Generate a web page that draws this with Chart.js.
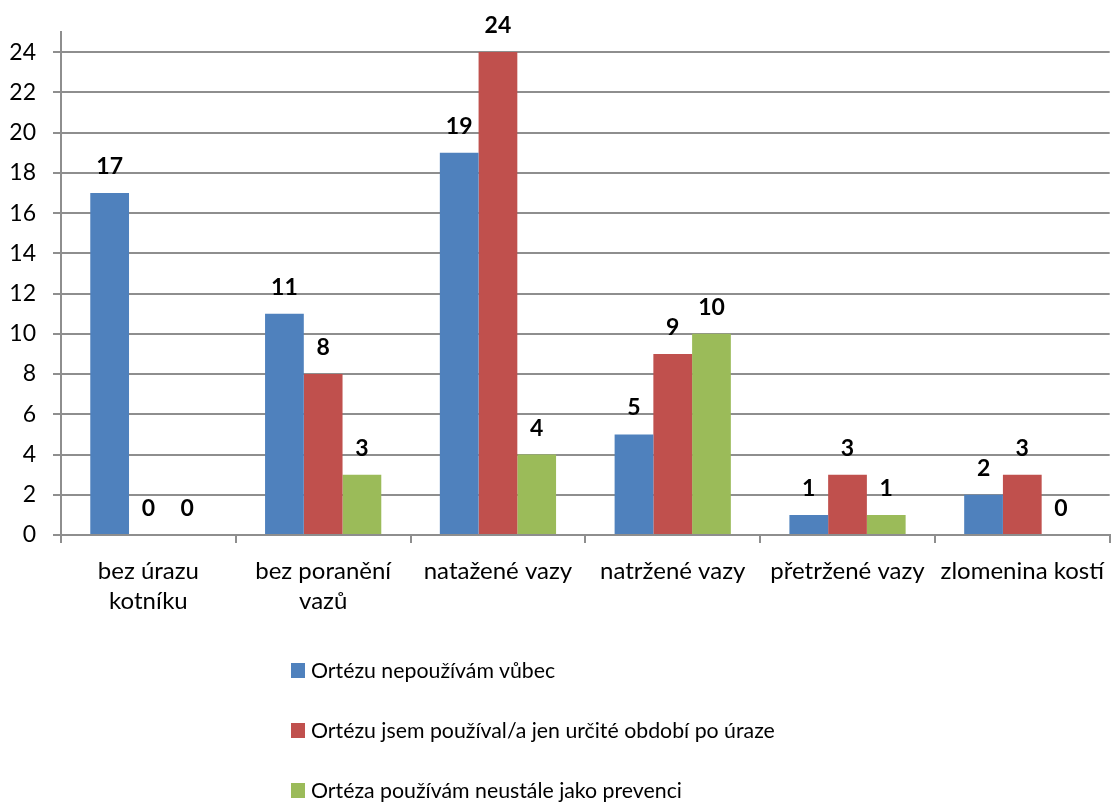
<!DOCTYPE html>
<html><head><meta charset="utf-8">
<script src="https://cdn.jsdelivr.net/npm/chart.js@4.4.1/dist/chart.umd.min.js"></script>
<style>
html,body{margin:0;padding:0;background:#fff;}
#wrap{position:relative;width:1117px;height:803px;overflow:hidden;}
#legend{position:absolute;left:291px;top:0;font-family:Lato,sans-serif;font-size:21.3px;color:#000;}
.item{position:absolute;left:0;white-space:nowrap;display:flex;align-items:center;height:30px;line-height:30px;}
.sw{width:14px;height:15px;margin-right:6px;flex:none;}
</style></head>
<body><div id="wrap"><canvas id="c" width="1117" height="803"></canvas><div id="legend"></div></div>
<script>
const categories = [["bez úrazu","kotníku"],["bez poranění","vazů"],"natažené vazy","natržené vazy","přetržené vazy","zlomenina kostí"];
const seriesNames = ["Ortézu nepoužívám vůbec","Ortézu jsem používal/a jen určité období po úraze","Ortéza používám neustále jako prevenci"];
const nepouzivam = [17,11,19,5,1,2];
const urciteObdobi = [0,8,24,9,3,3];
const prevence = [0,3,4,10,1,0];
const yTickValues = [0,2,4,6,8,10,12,14,16,18,20,22,24];
const colors = ['#4F81BD','#C0504D','#9BBB59'];

const FONT = 'Lato';
const GRID = '#8e8e8e';

const labelPlugin = {
  id: 'valueLabels',
  afterDatasetsDraw(chart){
    const ctx = chart.ctx;
    ctx.save();
    ctx.font = 'bold 23px ' + FONT;
    ctx.fillStyle = '#000';
    ctx.textAlign = 'center';
    ctx.textBaseline = 'alphabetic';
    chart.data.datasets.forEach((ds,i)=>{
      chart.getDatasetMeta(i).data.forEach((bar,j)=>{
        ctx.fillText(String(ds.data[j]), bar.x, bar.y - 19);
      });
    });
    ctx.restore();
  }
};

const seriesData = [nepouzivam, urciteObdobi, prevence];
new Chart(document.getElementById('c'), {
  type: 'bar',
  data: {
    labels: categories,
    datasets: seriesData.map((d,i)=>({label: seriesNames[i], data: d, backgroundColor: colors[i], borderWidth: 0}))
  },
  options: {
    responsive: false,
    animation: false,
    devicePixelRatio: 1,
    layout: {padding: {left: 0, right: 0, top: 32, bottom: 168}},
    plugins: {legend: {display: false}, tooltip: {enabled: false}},
    datasets: {bar: {categoryPercentage: 0.665, barPercentage: 1}},
    scales: {
      x: {
        grid: {display: true, drawOnChartArea: false, drawTicks: true, tickLength: 8, color: GRID, lineWidth: 2, offset: true},
        border: {display: true, color: GRID, width: 2},
        ticks: {font: {family: FONT, size: 24, lineHeight: 1.25}, color: '#000', padding: 13, maxRotation: 0, autoSkip: false},
        afterFit(s){ s.height = 100; }
      },
      y: {
        min: 0, max: 25,
        grid: {color: GRID, lineWidth: 2, drawTicks: true, tickLength: 8},
        border: {display: true, color: GRID, width: 2},
        ticks: {stepSize: 2, font: {family: FONT, size: 23}, color: '#000', padding: 17},
        afterBuildTicks(s){ s.ticks = yTickValues.map(v=>({value: v})); },
        afterFit(s){ s.width = 61; }
      }
    }
  },
  plugins: [labelPlugin]
});

const legend = document.getElementById('legend');
const rowCenters = [670, 730, 790];
seriesNames.forEach((n,i)=>{
  const it = document.createElement('div');
  it.className = 'item';
  it.style.top = (rowCenters[i] - 15) + 'px';
  const sw = document.createElement('span'); sw.className='sw'; sw.style.background = colors[i];
  const tx = document.createElement('span'); tx.textContent = n;
  it.appendChild(sw); it.appendChild(tx);
  legend.appendChild(it);
});
</script>
</body></html>
